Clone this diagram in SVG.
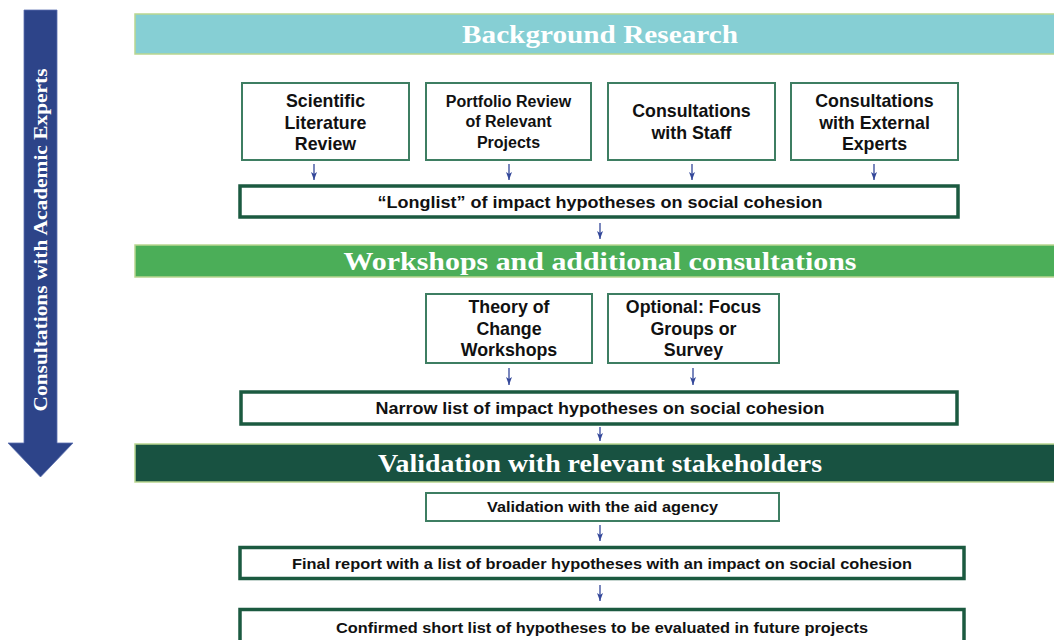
<svg xmlns="http://www.w3.org/2000/svg" width="1054" height="640" viewBox="0 0 1054 640">
<defs>
<style>
.bar{stroke:#B9D690;stroke-width:1.5}
.hd{font-family:"Liberation Serif","DejaVu Serif",serif;font-weight:bold;font-size:25px;fill:#fff;text-anchor:middle}
.box{fill:#fff;stroke:#3E7E62;stroke-width:2}
.tbox{fill:#fff;stroke:#1B5A40;stroke-width:3.5}
.t{font-family:"Liberation Sans",Arial,sans-serif;font-weight:bold;fill:#111;text-anchor:middle}
</style>
<marker id="ah2" viewBox="0 0 8 6" refX="8" refY="3" markerWidth="8" markerHeight="6" markerUnits="userSpaceOnUse" orient="auto">
<path d="M0,0 L8,3 L0,6 L2,3 Z" fill="#34489A"/>
</marker>
</defs>
<rect width="1054" height="640" fill="#fff"/>

<g id="side-arrow">
<path d="M24,10 H57 V443 H73 L40.5,477 L8,443 H24 Z" fill="#2D4489" stroke="#5A70B0" stroke-width="0.8"/>
<text transform="translate(46.5,240) rotate(-90)" font-family="'Liberation Serif','DejaVu Serif',serif" font-weight="bold" font-size="18" fill="#fff" text-anchor="middle" textLength="343" lengthAdjust="spacingAndGlyphs">Consultations with Academic Experts</text>
</g>

<g id="bar-background">
<rect class="bar" x="135" y="14" width="925" height="40" fill="#86CFD4"/>
<text class="hd" x="600" y="43" textLength="276" lengthAdjust="spacingAndGlyphs">Background Research</text>
</g>

<g id="node-scientific">
<rect class="box" x="242" y="83" width="167" height="77"/>
<text class="t" font-size="17.8"><tspan x="325.5" y="107">Scientific</tspan><tspan x="325.5" y="128.5">Literature</tspan><tspan x="325.5" y="150">Review</tspan></text>
</g>
<g id="node-portfolio">
<rect class="box" x="426" y="83" width="165" height="77"/>
<text class="t" font-size="16"><tspan x="508.5" y="106.5">Portfolio Review</tspan><tspan x="508.5" y="127">of Relevant</tspan><tspan x="508.5" y="147.5">Projects</tspan></text>
</g>
<g id="node-staff">
<rect class="box" x="608" y="83" width="167" height="77"/>
<text class="t" font-size="17.8"><tspan x="691.5" y="117">Consultations</tspan><tspan x="691.5" y="138.5">with Staff</tspan></text>
</g>
<g id="node-external">
<rect class="box" x="791" y="83" width="167" height="77"/>
<text class="t" font-size="17.8"><tspan x="874.5" y="107">Consultations</tspan><tspan x="874.5" y="128.5">with External</tspan><tspan x="874.5" y="150">Experts</tspan></text>
</g>

<g id="node-longlist">
<rect class="tbox" x="240" y="186" width="718" height="31"/>
<text class="t" font-size="16" x="600" y="207.5" textLength="445" lengthAdjust="spacingAndGlyphs">“Longlist” of impact hypotheses on social cohesion</text>
</g>

<g id="bar-workshops">
<rect class="bar" x="135" y="245" width="925" height="32" fill="#4BAE58"/>
<text class="hd" x="600" y="270" textLength="513" lengthAdjust="spacingAndGlyphs">Workshops and additional consultations</text>
</g>

<g id="node-toc">
<rect class="box" x="426" y="294" width="166" height="69"/>
<text class="t" font-size="17.8"><tspan x="509" y="313">Theory of</tspan><tspan x="509" y="334.5">Change</tspan><tspan x="509" y="356">Workshops</tspan></text>
</g>
<g id="node-optional">
<rect class="box" x="608" y="294" width="171" height="69"/>
<text class="t" font-size="17.8"><tspan x="693.5" y="313">Optional: Focus</tspan><tspan x="693.5" y="334.5">Groups or</tspan><tspan x="693.5" y="356">Survey</tspan></text>
</g>

<g id="node-narrow">
<rect class="tbox" x="241" y="392" width="716" height="32"/>
<text class="t" font-size="16" x="600" y="414" textLength="449" lengthAdjust="spacingAndGlyphs">Narrow list of impact hypotheses on social cohesion</text>
</g>

<g id="bar-validation">
<rect class="bar" x="135" y="444" width="925" height="38" fill="#185241"/>
<text class="hd" x="600" y="472" textLength="444" lengthAdjust="spacingAndGlyphs">Validation with relevant stakeholders</text>
</g>

<g id="node-aid">
<rect class="box" x="426" y="493" width="353" height="28"/>
<text class="t" font-size="15" x="602.5" y="512" textLength="231" lengthAdjust="spacingAndGlyphs">Validation with the aid agency</text>
</g>

<g id="node-final">
<rect class="tbox" x="240" y="547.5" width="724" height="31"/>
<text class="t" font-size="15.5" x="602" y="568.5" textLength="620" lengthAdjust="spacingAndGlyphs">Final report with a list of broader hypotheses with an impact on social cohesion</text>
</g>

<g id="node-confirmed">
<rect class="tbox" x="240" y="609.5" width="724" height="40"/>
<text class="t" font-size="15.5" x="602" y="632.5" textLength="532" lengthAdjust="spacingAndGlyphs">Confirmed short list of hypotheses to be evaluated in future projects</text>
</g>

<g id="connectors" stroke="#34489A" stroke-width="1.3" fill="none">
<line x1="314" y1="164" x2="314" y2="180" marker-end="url(#ah2)"/>
<line x1="509" y1="164" x2="509" y2="180" marker-end="url(#ah2)"/>
<line x1="692" y1="164" x2="692" y2="180" marker-end="url(#ah2)"/>
<line x1="874" y1="164" x2="874" y2="180" marker-end="url(#ah2)"/>
<line x1="600" y1="223" x2="600" y2="239" marker-end="url(#ah2)"/>
<line x1="509" y1="368" x2="509" y2="385" marker-end="url(#ah2)"/>
<line x1="693" y1="368" x2="693" y2="385" marker-end="url(#ah2)"/>
<line x1="600" y1="427" x2="600" y2="441" marker-end="url(#ah2)"/>
<line x1="600" y1="525" x2="600" y2="541" marker-end="url(#ah2)"/>
<line x1="600" y1="585" x2="600" y2="601" marker-end="url(#ah2)"/>
</g>
</svg>
